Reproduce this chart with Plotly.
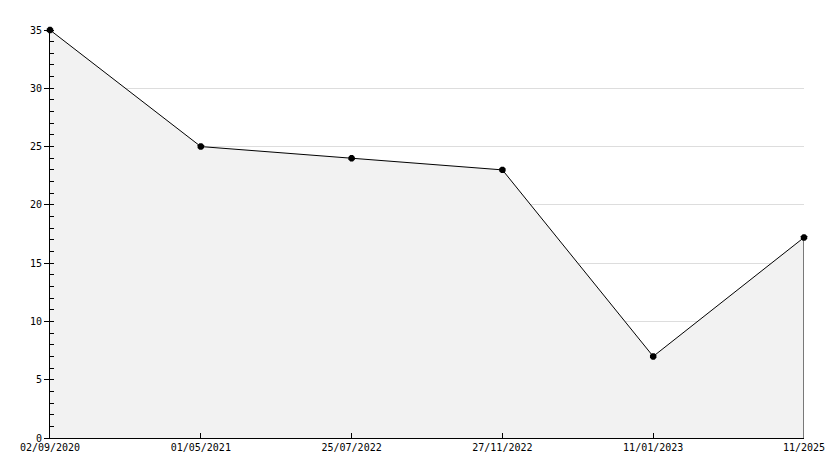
import plotly.graph_objects as go

dates = ['02/09/2020', '01/05/2021', '25/07/2022', '27/11/2022', '11/01/2023', '11/2025']
values = [35, 25, 24, 23, 7, 17.2]
y_ticks = [0, 5, 10, 15, 20, 25, 30, 35]

fig = go.Figure()

# filled area with line and markers
fig.add_trace(go.Scatter(
    x=dates,
    y=values,
    mode='lines+markers',
    fill='tozeroy',
    fillcolor='#f2f2f2',
    line=dict(color='#000000', width=1),
    marker=dict(color='#000000', size=7, symbol='octagon'),
    showlegend=False,
    cliponaxis=False,
    hoverinfo='x+y'
))

# closing edge of the area at the last point
fig.add_trace(go.Scatter(
    x=[dates[-1], dates[-1]],
    y=[0, values[-1]],
    mode='lines',
    line=dict(color='#000000', width=1),
    showlegend=False,
    hoverinfo='skip'
))

# page body has an 8px margin, so the figure is smaller than the window
fig.update_layout(
    width=818,
    height=452,
    paper_bgcolor='#ffffff',
    plot_bgcolor='#ffffff',
    font=dict(family='DejaVu Sans Mono', size=10, color='#000000'),
    margin=dict(t=22, b=22, l=42, r=22, autoexpand=False),
    xaxis=dict(
        type='category',
        range=[0, len(dates) - 1],
        automargin=False,
        showgrid=False,
        zeroline=False,
        showline=True,
        linecolor='#000000',
        linewidth=1,
        ticks='inside',
        ticklen=5,
        tickcolor='#000000',
        tickfont=dict(size=10)
    ),
    yaxis=dict(
        range=[0, 35],
        tickvals=y_ticks,
        automargin=False,
        showgrid=True,
        gridcolor='#dddddd',
        gridwidth=1,
        zeroline=False,
        showline=True,
        linecolor='#000000',
        linewidth=1,
        ticks='outside',
        ticklen=5,
        tickcolor='#000000',
        tickfont=dict(size=10),
        minor=dict(
            dtick=1,
            ticks='inside',
            ticklen=4,
            tickcolor='#000000',
            showgrid=False
        )
    )
)

fig.write_html('out.html')
